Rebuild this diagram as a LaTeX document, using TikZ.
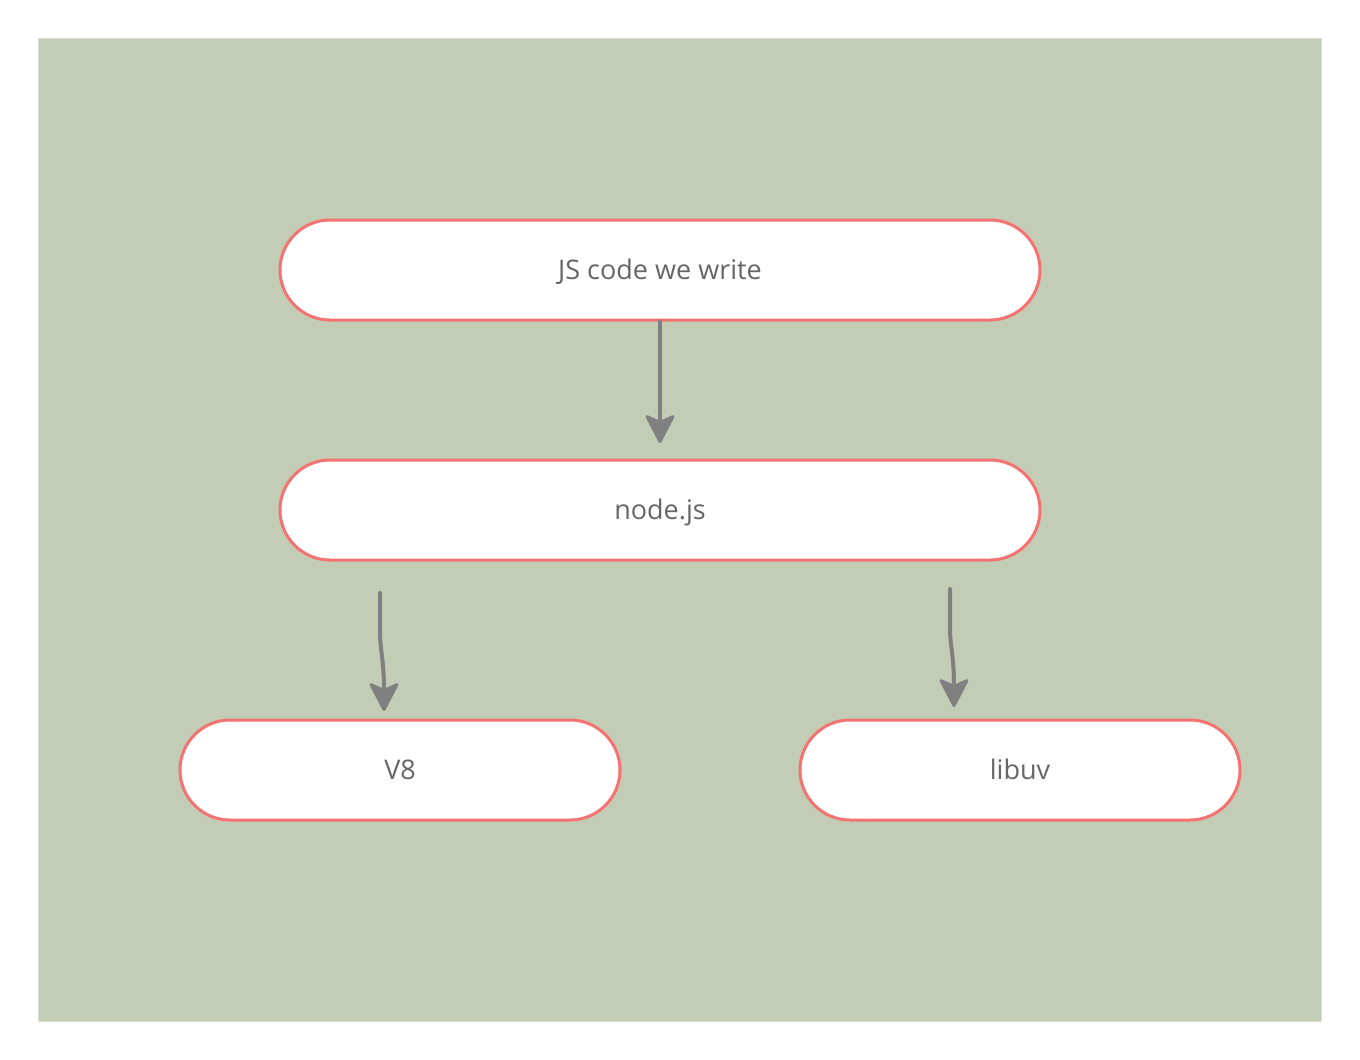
\documentclass[tikz,border=0pt]{standalone}
\usepackage{fontspec}
\setmainfont{Open Sans}
\usetikzlibrary{arrows.meta}
\definecolor{bgc}{HTML}{C3CCB4}
\definecolor{bgedge}{HTML}{D8DED0}
\definecolor{pillc}{HTML}{F47272}
\definecolor{txtc}{HTML}{666666}
\definecolor{arrc}{HTML}{808080}
\tikzset{
  pill/.style={draw=pillc, line width=3pt, fill=white, rounded corners=50pt,
    minimum height=100pt, inner sep=0pt, text=txtc,
    text height=24pt, text depth=6pt,
    font=\fontsize{27}{32}\selectfont},
  conn/.style={draw=arrc, line width=4pt, line cap=round, line join=round,
    -{Stealth[length=31pt,width=32pt,inset=7pt,round,line width=3pt]}}
}
\begin{document}
\begin{tikzpicture}[x=1pt,y=-1pt]
\useasboundingbox (0,0) rectangle (1360,1060);
\fill[bgc, draw=bgedge, line width=1pt] (38.5,38.5) rectangle (1321,1021);
\node[pill, minimum width=760pt] (js) at (660,270) {JS code we write};
\node[pill, minimum width=760pt] (nodejs) at (660,510) {node.js};
\node[pill, minimum width=440pt] (v8) at (400,770) {V8};
\node[pill, minimum width=440pt] (libuv) at (1020,770) {libuv};
\coordinate (jsend) at (660,443);
\coordinate (v8start) at (380,593);
\coordinate (v8end) at (384,711);
\coordinate (uvstart) at (950,589);
\coordinate (uvend) at (954,707);
\draw[conn] (js.south) -- (jsend);
\draw[conn] (v8start) -- (380,632) .. controls (380,650) and (384,660) .. (v8end);
\draw[conn] (uvstart) -- (950,628) .. controls (950,646) and (954,656) .. (uvend);
\end{tikzpicture}
\end{document}
